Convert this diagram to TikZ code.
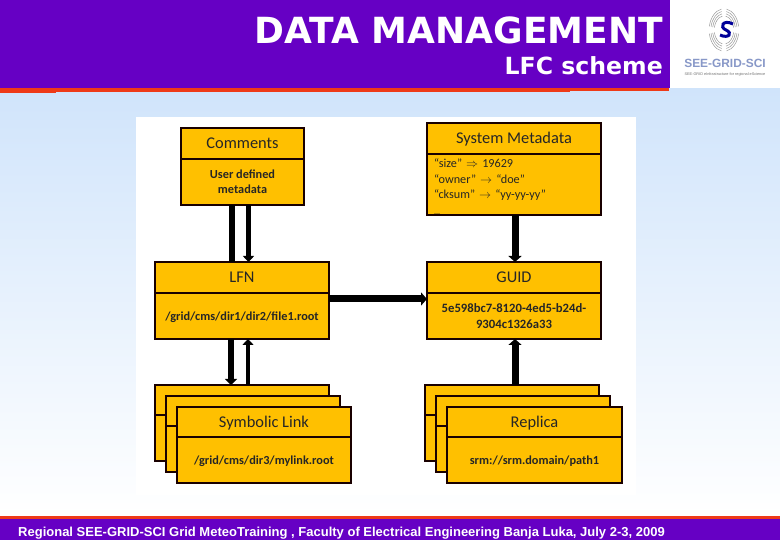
\documentclass[tikz,border=0pt]{standalone}
\usepackage{fontspec}
\setmainfont{Carlito}
\newfontfamily\titlefont{DejaVu Sans}
\newfontfamily\footfont{Liberation Sans}
\usetikzlibrary{positioning,calc,arrows.meta}
\definecolor{bandpurple}{RGB}{102,0,196}
\definecolor{bandred}{RGB}{238,58,24}
\definecolor{paleblue}{RGB}{208,228,251}
\definecolor{cardgold}{RGB}{255,192,0}
\definecolor{logoblue}{RGB}{136,152,200}
\tikzset{
cardhead/.style={draw=black!90!red,fill=cardgold,line width=1.2pt,outer sep=0pt,inner sep=2pt,minimum height=31pt,text height=10pt,text depth=0pt,font=\fontsize{16.4}{18}\selectfont,text=black!85},
cardbody/.style={draw=black!90!red,fill=cardgold,line width=1.2pt,outer sep=0pt,inner sep=2pt,minimum height=46pt,text depth=0pt,align=center,font=\fontsize{12.3}{15.3}\selectfont\bfseries,text=black!85},
flowline/.style={line width=6pt,black},
flowarrow/.style={-{Triangle[length=6pt,width=12pt]},line width=6pt,black},
flowarrowb/.style={-{Triangle[length=6pt,width=11pt]},line width=4.8pt,black},
flowarrowc/.style={-{Triangle[length=6pt,width=13pt]},line width=7pt,black},
swirl/.style={black!40,line width=0.5pt}
}
\begin{document}
\begin{tikzpicture}[x=1pt,y=-1pt]
\useasboundingbox (0,0) rectangle (780,540);
% backdrop and panel
\shade[top color=paleblue,bottom color=white] (0,88) rectangle (780,516);
\fill[white] (136,117) rectangle (636,495);
% header
\fill[white] (670,0) rectangle (780,88);
\fill[bandpurple] (0,0) rectangle (670,88);
\fill[bandred] (0,88) rectangle (56,93.5);
\fill[bandred] (56,88) rectangle (570,92.5);
\fill[bandred] (570,88) rectangle (669,91);
\node[anchor=east,inner sep=0pt,text=white,font=\titlefont\fontsize{36}{38}\selectfont\bfseries] (title) at (663,30) {DATA MANAGEMENT};
\node[anchor=east,inner sep=0pt,text=white,font=\titlefont\fontsize{23.6}{26}\selectfont\bfseries] (subtitle) at (663,66) {LFC scheme};
% logo
\foreach \a/\b in {100/170,190/260,280/350,10/80}{
\foreach \r in {0.70,0.82,0.94,1.06}{
\draw[swirl] ($(724,30)+({\a}:{14*\r} and {20*\r})$) arc ({\a}:{\b}:{14*\r} and {20*\r});
}}
\draw[line width=3pt,blue!60!black] (733,24) .. controls (723,19) and (719,27) .. (726,30) .. controls (733,33) and (729,39) .. (720,35);
\node[text=logoblue,font=\footfont\fontsize{11.9}{13}\selectfont\bfseries] (logotext) at (725,63) {SEE-GRID-SCI};
\node[text=black!55,font=\footfont\fontsize{3.8}{5}\selectfont] (logosub) at (725,75) {SEE-GRID eInfrastructure for regional eScience};
% top and middle cards
\node[cardhead,minimum width=123pt,anchor=north west] (commenthead) at (181,128) {Comments};
\node[cardbody,minimum width=123pt,below=0pt of commenthead] (commentbody) {User defined\\metadata};
\node[cardhead,minimum width=174pt,anchor=north west] (metahead) at (427,123) {System Metadata};
\node[cardbody,minimum width=174pt,minimum height=61pt,text width=160pt,text height=9pt,text depth=43pt,align=left,below=0pt of metahead,font=\fontsize{12.2}{15.6}\selectfont] (metabody) {``size'' $\Rightarrow$ 19629\\``owner'' $\rightarrow$ ``doe''\\``cksum'' $\rightarrow$ ``yy-yy-yy''\\\fontsize{8}{8}\selectfont ...};
\node[cardhead,minimum width=174pt,anchor=north west] (lfnhead) at (155,262) {LFN};
\node[cardbody,minimum width=174pt,below=0pt of lfnhead] (lfnbody) {/grid/cms/dir1/dir2/file1.root};
\node[cardhead,minimum width=174pt,anchor=north west] (guidhead) at (427,262) {GUID};
\node[cardbody,minimum width=174pt,below=0pt of guidhead,font=\fontsize{12.7}{15.3}\selectfont\bfseries] (guidbody) {5e598bc7-8120-4ed5-b24d-\\9304c1326a33};
% stacked cards at the bottom
\foreach \n/\x/\y in {a/155/385,b/166/396}{
\node[cardhead,minimum width=174pt,minimum height=30pt,anchor=north west] (link\n head) at (\x,\y) {};
\node[cardbody,minimum width=174pt,below=0pt of link\n head] (link\n body) {};
}
\node[cardhead,minimum width=174pt,minimum height=30pt,anchor=north west] (linkhead) at (177,407) {Symbolic Link};
\node[cardbody,minimum width=174pt,below=0pt of linkhead] (linkbody) {/grid/cms/dir3/mylink.root};
\foreach \n/\x/\y in {a/425/385,b/436/396}{
\node[cardhead,minimum width=174pt,minimum height=30pt,anchor=north west] (replica\n head) at (\x,\y) {};
\node[cardbody,minimum width=174pt,below=0pt of replica\n head] (replica\n body) {};
}
\node[cardhead,minimum width=175pt,minimum height=30pt,anchor=north west] (replicahead) at (447,407) {Replica};
\node[cardbody,minimum width=175pt,below=0pt of replicahead] (replicabody) {srm://srm.domain/path1};
% connectors
\draw[flowline] ([xshift=-11pt]commentbody.south) -- ([xshift=-11pt]commentbody.south |- lfnhead.north);
\draw[flowarrowb] ([xshift=6pt]commentbody.south) -- ([xshift=6pt]commentbody.south |- lfnhead.north);
\draw[flowarrow] ([xshift=-11pt]lfnbody.south) -- ([xshift=-11pt]lfnbody.south |- linkahead.north);
\draw[flowarrowb] ([xshift=6pt]lfnbody.south |- linkahead.north) -- ([xshift=6pt]lfnbody.south);
\draw[flowarrowc] ([xshift=1pt]metabody.south) -- ([xshift=1pt]metabody.south |- guidhead.north);
\draw[flowarrowc] ([xshift=1pt]guidbody.south |- replicaahead.north) -- ([xshift=1pt]guidbody.south);
\draw[flowarrowc] ([yshift=-6pt]lfnbody.north east) -- ([yshift=-6pt]guidbody.north west);
% footer
\fill[bandred] (0,516) rectangle (780,518.5);
\fill[bandpurple] (0,518.5) rectangle (780,540);
\node[anchor=base west,inner sep=0pt,text=white,font=\footfont\fontsize{13}{15}\selectfont\bfseries] (footer) at (18,536) {Regional SEE-GRID-SCI Grid MeteoTraining , Faculty of Electrical Engineering Banja Luka, July 2-3, 2009};
\end{tikzpicture}
\end{document}
